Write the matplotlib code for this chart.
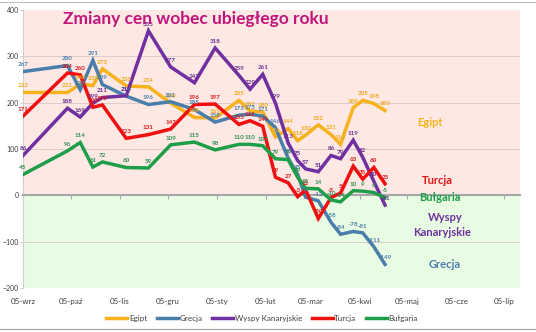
import matplotlib.pyplot as plt
import matplotlib.lines as mlines
import pandas as pd

plt.rcParams['font.family'] = ['Lato', 'DejaVu Sans']

# Daty pomiarow
dates = pd.to_datetime([
    '2008-09-05', '2008-10-03', '2008-10-11', '2008-10-19', '2008-10-25',
    '2008-11-09', '2008-11-23', '2008-12-07', '2008-12-22', '2009-01-04',
    '2009-01-19', '2009-01-26', '2009-02-03', '2009-02-11', '2009-02-19',
    '2009-02-25', '2009-03-02', '2009-03-10', '2009-03-18', '2009-03-24',
    '2009-04-01', '2009-04-07', '2009-04-14', '2009-04-21'])

egipt = [222, 222, 240, 237, 273, 236, 234, 199, 168, 167, 205, 182,
         180, 126, 144, 118, 130, 152, 131, 110, 189, 205, 198, 183]
grecja = [267, 280, 228, 291, 239, 214, 196, 202, 185, 158, 173, 175,
          171, 146, 80, 45, -4, -12, -58, -84, -78, -81, -111, -149]
wyspy = [86, 188, 169, 199, 211, 215, 355, 277, 243, 318, 259, 229,
         261, 199, 113, 75, 57, 51, 86, 79, 119, 82, 30, -21]
turcja = [171, 264, 260, 190, 195, 123, 131, 143, 196, 197, 153, 161,
          149, 39, 27, -3, 12, -50, -5, 5, 63, 35, 60, 25]
bulgaria = [45, 96, 114, 61, 72, 60, 59, 109, 115, 98, 110, 110,
            107, 79, 77, 39, 15, 14, -10, -14, 10, 9, 6, -5]

month_ticks = pd.to_datetime([
    '2008-09-05', '2008-10-05', '2008-11-05', '2008-12-05', '2009-01-05',
    '2009-02-05', '2009-03-05', '2009-04-05', '2009-05-05', '2009-06-05',
    '2009-07-05'])
month_labels = ['05-wrz', '05-paź', '05-lis', '05-gru', '05-sty', '05-lut',
                '05-mar', '05-kwi', '05-maj', '05-cze', '05-lip']

series = [
    ('Egipt', egipt, '#F7B21E', '#F0A81A'),
    ('Grecja', grecja, '#4A7EAA', '#4A7EAA'),
    ('Wyspy Kanaryjskie', wyspy, '#7030A0', '#6A2D8F'),
    ('Turcja', turcja, '#F01010', '#D81818'),
    ('Bułgaria', bulgaria, '#1E9E48', '#2E9050'),
]

fig = plt.figure(figsize=(5.36, 3.32), dpi=100)
ax = fig.add_axes([0.043, 0.1325, 0.927, 0.8375])

ax.axhspan(0, 400, color='#FDE8E4', zorder=0)
ax.axhspan(-200, 0, color='#E8FCE4', zorder=0)
for yv in [-100, 100, 200, 300]:
    ax.axhline(yv, color='#D8C8C8', lw=0.6, zorder=1)

for name, vals, col, lcol in series:
    ax.plot(dates, vals, color=col, lw=2.5, label=name, zorder=3,
            solid_joinstyle='miter')
    for d, v in zip(dates, vals):
        ax.annotate(str(v), (d, v), xytext=(0, 3), textcoords='offset points',
                    ha='center', va='bottom', fontsize=4.5, color=lcol,
                    fontweight='bold', zorder=4)

ax.set_ylim(-200, 400)
ax.set_xlim(pd.Timestamp('2008-09-05'), pd.Timestamp('2009-07-15'))
ax.set_yticks([-200, -100, 0, 100, 200, 300, 400])
ax.set_xticks(month_ticks)
ax.set_xticklabels(month_labels)

ax.spines['top'].set_visible(False)
ax.spines['right'].set_visible(False)
ax.spines['bottom'].set_position(('data', 0))
ax.spines['bottom'].set_color('#A6A6A6')
ax.spines['bottom'].set_linewidth(1.5)
ax.spines['left'].set_color('#D0D0D0')
ax.tick_params(axis='x', length=3, color='#A6A6A6', pad=71,
               labelsize=5.8, labelcolor='#404040')
ax.tick_params(axis='y', length=2, color='#D0D0D0', pad=1,
               labelsize=5, labelcolor='#404040')

fig.text(0.366, 0.943, 'Zmiany cen wobec ubiegłego roku', ha='center',
         va='center', fontsize=12.5, fontweight='bold', color='#C2157C')

ax.text(0.819, 0.597, 'Egipt', transform=ax.transAxes, ha='center',
        va='center', fontsize=8, fontweight='bold', color='#F7B21E')
ax.text(0.833, 0.388, 'Turcja', transform=ax.transAxes, ha='center',
        va='center', fontsize=8, fontweight='bold', color='#E81414')
ax.text(0.839, 0.324, 'Bułgaria', transform=ax.transAxes, ha='center',
        va='center', fontsize=8, fontweight='bold', color='#1E9E48')
ax.text(0.849, 0.255, 'Wyspy', transform=ax.transAxes, ha='center',
        va='center', fontsize=8, fontweight='bold', color='#7030A0')
ax.text(0.843, 0.201, 'Kanaryjskie', transform=ax.transAxes, ha='center',
        va='center', fontsize=8, fontweight='bold', color='#7030A0')
ax.text(0.849, 0.086, 'Grecja', transform=ax.transAxes, ha='center',
        va='center', fontsize=8, fontweight='bold', color='#4A7EAA')

fig.legend(loc='center', bbox_to_anchor=(0.489, 0.042), ncol=5,
           frameon=False, fontsize=5.8, handlelength=2.6, handletextpad=0.2,
           columnspacing=1.2, labelcolor='#404040')

fig.add_artist(mlines.Line2D([0, 1], [0.994, 0.994], color='#BFBFBF', lw=0.8))
fig.add_artist(mlines.Line2D([0, 1], [0.009, 0.009], color='#A0A0A0', lw=0.8))

fig.savefig('out.png', dpi=100)
